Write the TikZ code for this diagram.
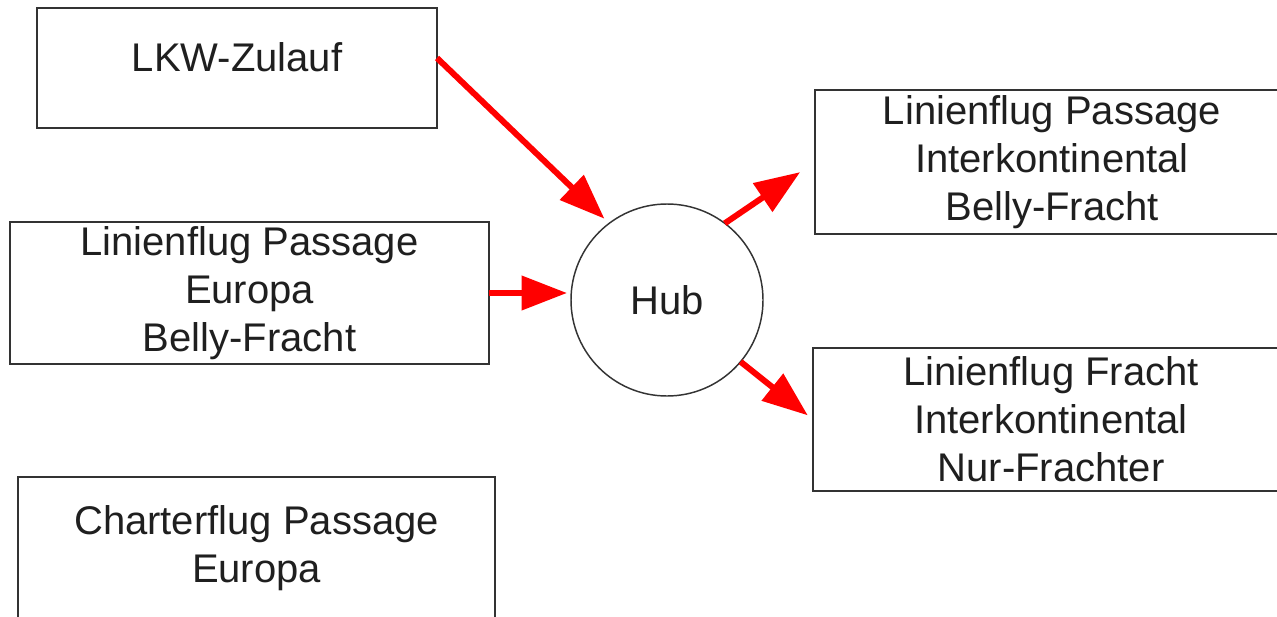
\documentclass[tikz,border=0pt]{standalone}
\usepackage{fontspec}
\setmainfont{Liberation Sans}
\usetikzlibrary{arrows.meta,calc}
\begin{document}
\begin{tikzpicture}[x=0.75pt,y=-0.75pt,
  txt/.style={font=\fontsize{30pt}{36pt}\selectfont, text=black!88, align=center},
  box/.style={txt, draw=black!80, line width=1.4pt, fill=white, inner sep=0pt, outer sep=0pt},
  hubnode/.style={txt, circle, draw=black!80, line width=1.1pt, inner sep=0pt, outer sep=0pt, minimum size=144pt},
  flow/.style={draw={rgb,255:red,255;green,0;blue,0}, line width=4.5pt,
    -{Triangle[length=34pt,width=25pt]}}]
  \useasboundingbox (0,0) rectangle (1277,617);
  \clip (0,0) rectangle (1277,617);
  \fill[white] (0,0) rectangle (1277,617);

  % sources on the left
  \node[box, minimum width=300pt, minimum height=90pt, text height=21pt, text depth=15pt]
    (lkw) at (237,68) {LKW-Zulauf};
  \node[box, minimum width=359.25pt, minimum height=106.5pt]
    (eur) at (249.5,293) {Linienflug Passage\\Europa\\Belly-Fracht};
  \node[box, minimum width=357.75pt, minimum height=107.25pt]
    (chr) at (256.5,548.5) {Charterflug Passage\\Europa};

  % hub
  \node[hubnode] (hub) at (667,300) {Hub};

  % destinations on the right
  \node[box, minimum width=355.5pt, minimum height=108pt]
    (ipass) at (1052,162) {Linienflug Passage\\Interkontinental\\Belly-Fracht};
  \node[box, minimum width=357pt, minimum height=107.25pt]
    (frt) at (1051,419.5) {Linienflug Fracht\\Interkontinental\\Nur-Frachter};

  % flows
  \coordinate (lkwout) at ($(lkw.east)+(0,-10)$);
  \draw[flow, shorten >=5pt] (lkwout) -- (hub.127);
  \draw[flow, shorten >=3pt] (eur.east) -- (eur.east -| hub.west);
  \draw[flow, shorten >=13.5pt] (hub.53) -- (ipass.west);
  \draw[flow, shorten >=5pt] (hub.-40) -- (frt.west);
\end{tikzpicture}
\end{document}
